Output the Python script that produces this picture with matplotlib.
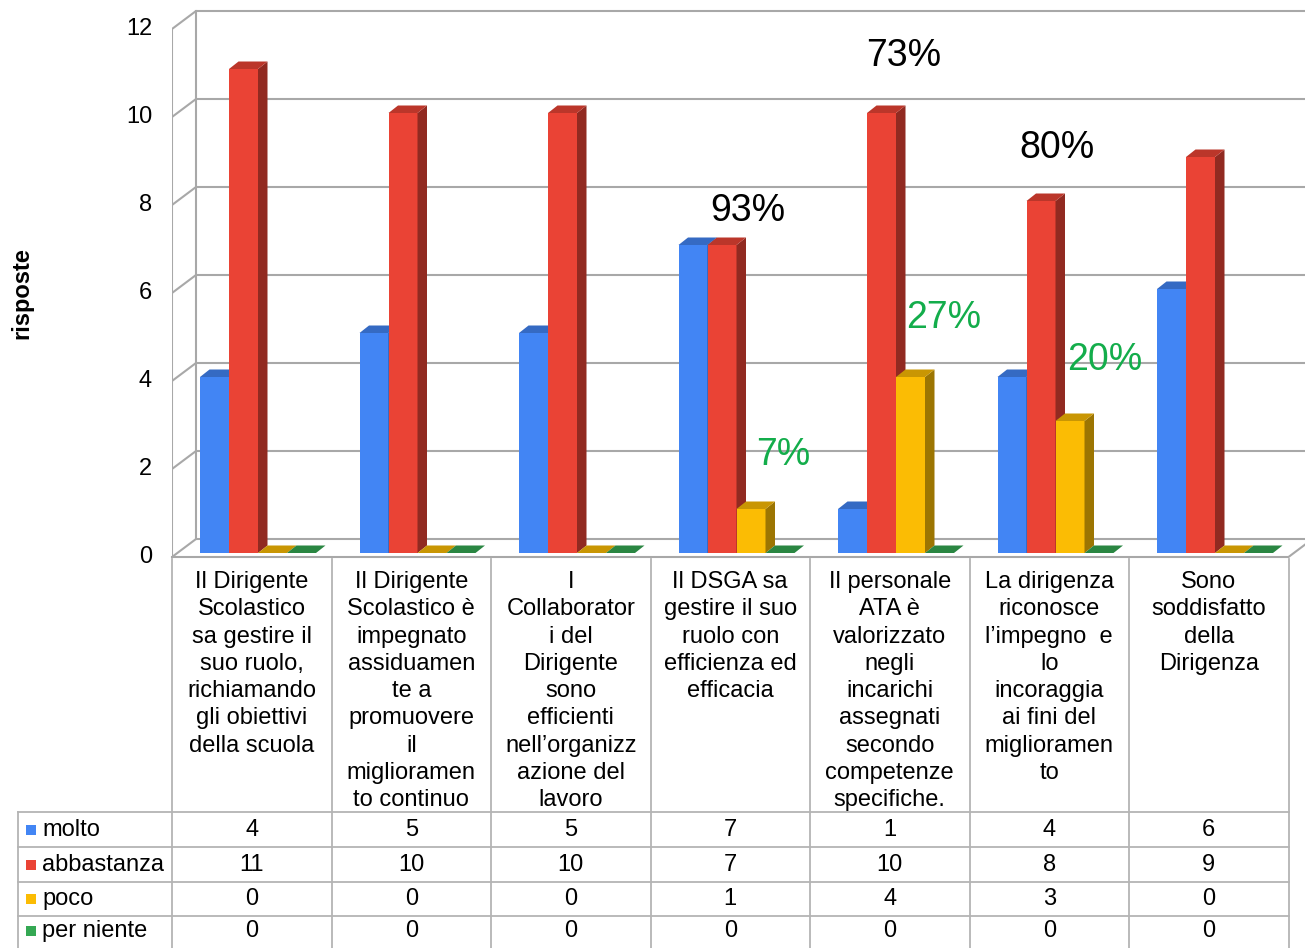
import matplotlib
matplotlib.use('Agg')
import matplotlib.pyplot as plt
from matplotlib.patches import Polygon, Rectangle
import matplotlib.colors as mcolors

plt.rcParams['font.family'] = ['Liberation Sans', 'DejaVu Sans']

# data
categories = [
    "Il Dirigente\nScolastico\nsa gestire il\nsuo ruolo,\nrichiamando\ngli obiettivi\ndella scuola",
    "Il Dirigente\nScolastico è\nimpegnato\nassiduamen\nte a\npromuovere\nil\nmiglioramen\nto continuo",
    "I\nCollaborator\ni del\nDirigente\nsono\nefficienti\nnell\u2019organizz\nazione del\nlavoro",
    "Il DSGA sa\ngestire il suo\nruolo con\nefficienza ed\nefficacia",
    "Il personale\nATA è\nvalorizzato\nnegli\nincarichi\nassegnati\nsecondo\ncompetenze\nspecifiche.",
    "La dirigenza\nriconosce\nl\u2019impegno  e\nlo\nincoraggia\nai fini del\nmiglioramen\nto",
    "Sono\nsoddisfatto\ndella\nDirigenza",
]
series_names = ['molto', 'abbastanza', 'poco', 'per niente']
molto = [4, 5, 5, 7, 1, 4, 6]
abbastanza = [11, 10, 10, 7, 10, 8, 9]
poco = [0, 0, 0, 1, 4, 3, 0]
per_niente = [0, 0, 0, 0, 0, 0, 0]
series = [molto, abbastanza, poco, per_niente]
series_colors = ['#4285f4', '#ea4335', '#fbbc04', '#34a853']
yticks = [0, 2, 4, 6, 8, 10, 12]
pos_pct = ['93%', '73%', '80%']
neg_pct = ['7%', '27%', '20%']

W, H = 1305, 948
X0, Y0 = 172, 557      # pixel of front origin
CW, UH = 159.5, 44.0   # px per category, px per unit
GRID = '#a8a8a8'

fig = plt.figure(figsize=(W / 100, H / 100), dpi=100)
ax = fig.add_axes([X0 / W, (H - 562) / H, (W - X0) / W, 562 / H])
ax.set_xlim(0, (W - X0) / CW)
ax.set_ylim(-5 / UH, Y0 / UH)
ax.axis('off')

# walls and grid
dxw, dyw = 24 / CW, 18 / UH
xmax = (W - X0) / CW
for v in yticks:
    ax.plot([0, dxw, xmax], [v, v + dyw, v + dyw], color=GRID, lw=1.5, zorder=1)
ax.plot([0, 0], [0, yticks[-1]], color=GRID, lw=1.5, zorder=1)
ax.plot([dxw, dxw], [dyw, yticks[-1] + dyw], color=GRID, lw=1.5, zorder=1)
n = len(categories)
ax.plot([0, n, n + dxw], [0, 0, dyw], color=GRID, lw=1.5, zorder=1, clip_on=False)

for v in yticks:
    ax.text(-20 / CW, v, str(v), ha='right', va='center', fontsize=17)
ax.text(-150 / CW, 6, 'risposte', rotation=90, ha='center', va='center',
        fontsize=17, fontweight='bold')


def shade(c, f):
    r, g, b = mcolors.to_rgb(c)
    return (r * f, g * f, b * f)


# 3d bars
gap0, bw, by0 = 28 / CW, 29 / CW, 4 / UH
dxb, dyb = 9.5 / CW, 7.5 / UH
z = 2
for i in range(n):
    for j, vals in enumerate(series):
        v = vals[i]
        c = series_colors[j]
        x = i + gap0 + j * bw
        top = by0 + v
        if v > 0:
            ax.bar(x, v, width=bw, bottom=by0, align='edge', color=c,
                   linewidth=0, zorder=z)
            ax.add_patch(Polygon([(x + bw, by0), (x + bw + dxb, by0 + dyb),
                                  (x + bw + dxb, top + dyb), (x + bw, top)],
                                 closed=True, color=shade(c, 0.62), lw=0, zorder=z))
        ax.add_patch(Polygon([(x, top), (x + bw, top), (x + bw + dxb, top + dyb),
                              (x + dxb, top + dyb)],
                             closed=True, color=shade(c, 0.8), lw=0, zorder=z))
        z += 1

# percentage notes
pos_xy = [(3.61, 7.86), (4.59, 11.38), (5.55, 9.29)]
neg_xy = [(3.83, 2.31), (4.84, 5.43), (5.85, 4.47)]
for t, (xx, yy) in zip(pos_pct, pos_xy):
    ax.text(xx, yy, t, ha='center', va='center', fontsize=27, color='black', zorder=100)
for t, (xx, yy) in zip(neg_pct, neg_xy):
    ax.text(xx, yy, t, ha='center', va='center', fontsize=27, color='#13ad4b', zorder=100)

# data table
tab = fig.add_axes([0, 0, 1, 1])
tab.set_xlim(0, W)
tab.set_ylim(H, 0)
tab.axis('off')
TL = '#b4b4b4'
cols = [X0 + k * CW for k in range(n + 1)]
for xc in cols:
    tab.plot([xc, xc], [559, H], color=TL, lw=1.3)
tab.plot([18, 18], [812, H], color=TL, lw=1.3)
row_lines = [812, 847, 882, 916]
for yr in row_lines:
    tab.plot([18, cols[-1]], [yr, yr], color=TL, lw=1.3)

for i, txt in enumerate(categories):
    tab.text((cols[i] + cols[i + 1]) / 2, 571, txt, ha='center', va='top',
             fontsize=17, linespacing=1.31)

row_centers = [830, 865, 899, 931]
for j, name in enumerate(series_names):
    yc = row_centers[j]
    tab.add_patch(Rectangle((26, yc - 5), 10, 10, color=series_colors[j], lw=0))
    tab.text(42, yc, name, ha='left', va='center', fontsize=17)
    for i in range(n):
        tab.text((cols[i] + cols[i + 1]) / 2, yc, str(series[j][i]),
                 ha='center', va='center', fontsize=17)

fig.savefig('out.png', dpi=100)
